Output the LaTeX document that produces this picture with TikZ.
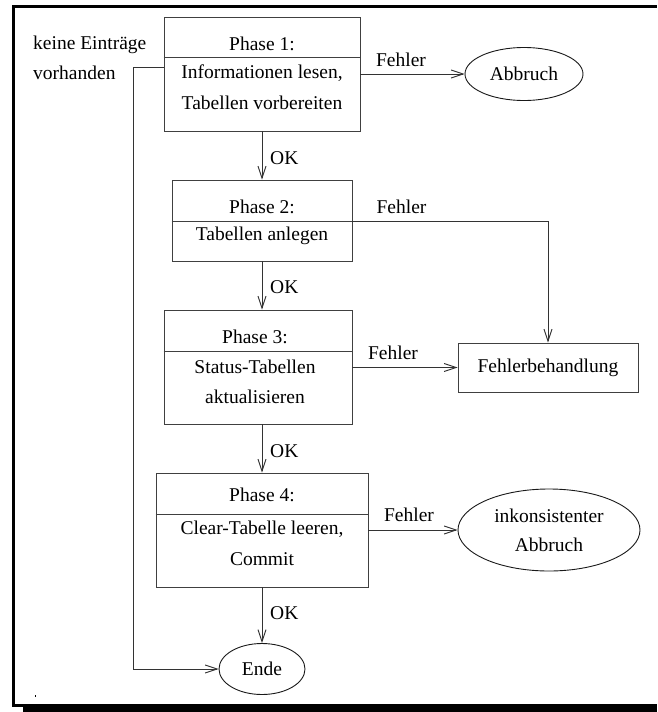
\documentclass[tikz,border=0pt]{standalone}
\usepackage{fontspec}
\setmainfont{Liberation Serif}
\usetikzlibrary{arrows.meta,shapes.geometric}

\begin{document}
\begin{tikzpicture}[x=1pt,y=-1pt,
  font=\fontsize{19.5}{23}\selectfont,
  phasebox/.style={draw=black!75,line width=0.9pt,rectangle,inner sep=0pt},
  endnode/.style={draw=black!90,line width=0.9pt,ellipse,inner sep=0pt},
  txt/.style={inner sep=0pt,anchor=center},
  arr/.style={draw=black!80,line width=0.9pt,-{Straight Barb[length=12pt,width=8pt,line width=0.9pt]}},
  divider/.style={draw=black!75,line width=0.9pt},
  framefill/.style={fill=black}]
\useasboundingbox (0,0) rectangle (657,712);

% frame round the chart
\fill[framefill] (12,5) rectangle (657,8);
\fill[framefill] (12,5) rectangle (15,707);
\fill[framefill] (12,704) rectangle (657,707);
\fill[framefill] (23,707) rectangle (657,712);
\fill[framefill] (34.5,695) rectangle (35.5,696.5);

% phase boxes
\node[phasebox,minimum width=196pt,minimum height=114pt] (p1) at (262,74) {};
\node[phasebox,minimum width=180pt,minimum height=81pt] (p2) at (262,220.5) {};
\node[phasebox,minimum width=188pt,minimum height=114pt] (p3) at (258,367) {};
\node[phasebox,minimum width=212pt,minimum height=114pt] (p4) at (262,530) {};

% dividers under the phase titles
\coordinate (d1) at (0,57);
\coordinate (d2) at (0,221);
\coordinate (d3) at (0,351);
\coordinate (d4) at (0,514);
\draw[divider] (p1.west |- d1) -- (p1.east |- d1);
\draw[divider] (p2.west |- d2) -- (p2.east |- d2);
\draw[divider] (p3.west |- d3) -- (p3.east |- d3);
\draw[divider] (p4.west |- d4) -- (p4.east |- d4);

% box texts
\node[txt] (t1a) at (262,44) {Phase 1:};
\node[txt] (t1b) at (262,73) {Informationen lesen,};
\node[txt] (t1c) at (262,103) {Tabellen vorbereiten};
\node[txt] (t2a) at (262,207) {Phase 2:};
\node[txt] (t2b) at (262,236) {Tabellen anlegen};
\node[txt] (t3a) at (255,337) {Phase 3:};
\node[txt] (t3b) at (255,367) {Status-Tabellen};
\node[txt] (t3c) at (255,397) {aktualisieren};
\node[txt] (t4a) at (262,495) {Phase 4:};
\node[txt] (t4b) at (262,529) {Clear-Tabelle leeren,};
\node[txt] (t4c) at (262,559) {Commit};

% end states
\node[endnode,minimum width=118pt,minimum height=53pt] (abbr) at (524,74) {Abbruch};
\node[phasebox,minimum width=180pt,minimum height=49pt] (fb) at (548,367.5) {Fehlerbehandlung};
\node[endnode,minimum width=182pt,minimum height=82pt,align=center] (ink) at (549,530) {inkonsistenter\\[6pt]Abbruch};
\node[endnode,minimum width=86pt,minimum height=51pt] (ende) at (262,669) {Ende};

% side note
\node[txt,anchor=west] (k1) at (33,45) {keine Einträge};
\node[txt,anchor=west] (k2) at (33,73) {vorhanden};

% OK flow
\draw[arr] (p1.south) -- (p2.north);
\draw[arr] (p2.south) -- (p2.south |- p3.north);
\draw[arr] (p3.south -| p4.north) -- (p4.north);
\draw[arr] (p4.south) -- (ende.north);
\node[txt,anchor=west] (ok1) at (270,158) {OK};
\node[txt,anchor=west] (ok2) at (270,287) {OK};
\node[txt,anchor=west] (ok3) at (270,451) {OK};
\node[txt,anchor=west] (ok4) at (270,613) {OK};

% error flow
\draw[arr] (p1.east) -- (abbr.west);
\draw[arr] (p2.east |- d2) -| (fb.north);
\draw[arr] (p3.east |- fb.west) -- (fb.west);
\draw[arr] (p4.east) -- (ink.west);
\node[txt] (f1) at (401,60) {Fehler};
\node[txt] (f2) at (401.5,207) {Fehler};
\node[txt] (f3) at (393,353) {Fehler};
\node[txt] (f4) at (409,515) {Fehler};

% shortcut when nothing is to do
\coordinate (y67) at (0,67);
\coordinate (xl) at (133,0);
\draw[arr] (p1.west |- y67) -- (xl |- y67) |- (ende.west);
\end{tikzpicture}
\end{document}
